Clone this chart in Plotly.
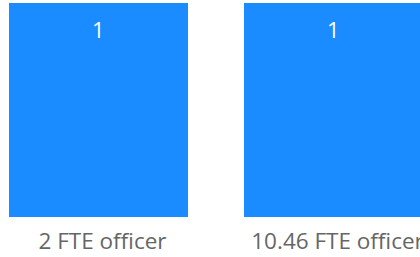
import plotly.graph_objects as go

categories = ["2 FTE officer", "10.46 FTE officer"]
values = [1, 1]
value_labels = ["1", "1"]

bar_color = "#1a8cff"
text_color = "#666666"
font_family = "Open Sans, Noto Sans, sans-serif"

fig = go.Figure()
fig.add_trace(go.Bar(
    x=categories,
    y=values,
    marker=dict(color=bar_color, line=dict(width=0)),
    hoverinfo="skip",
))

for c, v, t in zip(categories, values, value_labels):
    fig.add_annotation(
        x=c, y=v, text=t, showarrow=False,
        yanchor="middle", yshift=-26,
        font=dict(size=22, color="white", family=font_family),
    )

W, H = 420, 257
px_per_cat = 235.0
left_center = 98.5
x0 = -left_center / px_per_cat
x1 = x0 + W / px_per_cat

fig.update_layout(
    width=W, height=H,
    margin=dict(l=0, r=0, t=3, b=40, autoexpand=False),
    paper_bgcolor="white",
    plot_bgcolor="white",
    bargap=1 - 179 / px_per_cat,
    showlegend=False,
    xaxis=dict(
        type="category",
        range=[x0, x1],
        automargin=False,
        showgrid=False, zeroline=False, showline=False,
        ticks="",
        tickfont=dict(size=22.5, color=text_color, family=font_family),
        ticklabelstandoff=8,
        ticklabelshift=4,
    ),
    yaxis=dict(
        range=[0, 1],
        visible=False,
        automargin=False,
    ),
)

fig.write_html(
    "out.html",
    config={"displayModeBar": False, "staticPlot": True},
    post_script="document.body.style.margin='0';document.body.style.overflow='hidden';",
)
